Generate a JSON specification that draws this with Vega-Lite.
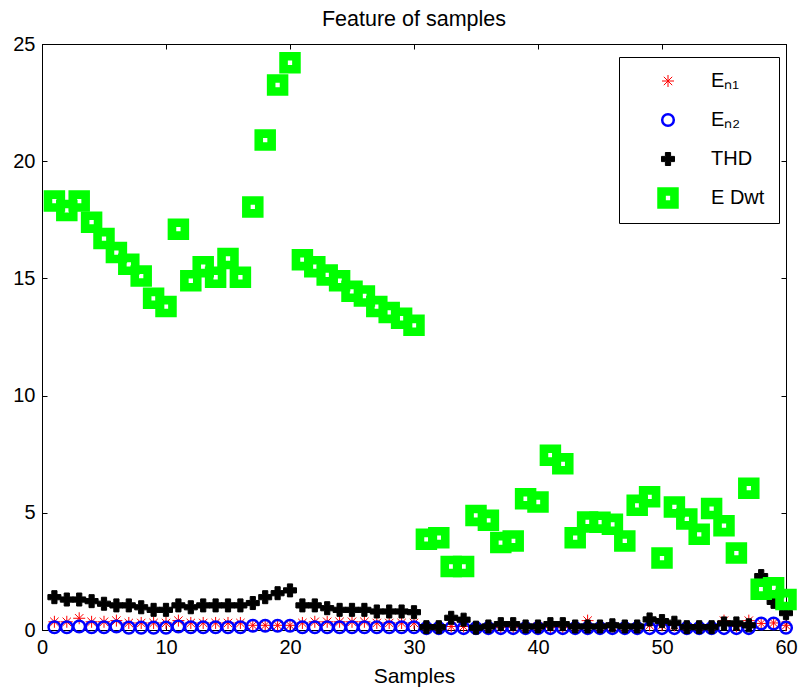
{
  "$schema": "https://vega.github.io/schema/vega-lite/v6.json",
  "width": 744,
  "height": 586,
  "autosize": {"type": "none"},
  "padding": {"left": 42, "top": 44, "right": 12, "bottom": 59},
  "background": "white",
  "title": {"text": "Feature of samples", "fontSize": 21.5, "fontWeight": "normal", "color": "black", "offset": 17, "baseline": "alphabetic", "dy": 30},
  "datasets": {
    "pts": [
      {"s":1,"k":"En1","v":0.35},{"s":2,"k":"En1","v":0.35},{"s":3,"k":"En1","v":0.5},{"s":4,"k":"En1","v":0.35},{"s":5,"k":"En1","v":0.35},{"s":6,"k":"En1","v":0.4},{"s":7,"k":"En1","v":0.3},{"s":8,"k":"En1","v":0.3},{"s":9,"k":"En1","v":0.3},{"s":10,"k":"En1","v":0.3},
      {"s":11,"k":"En1","v":0.4},{"s":12,"k":"En1","v":0.3},{"s":13,"k":"En1","v":0.3},{"s":14,"k":"En1","v":0.3},{"s":15,"k":"En1","v":0.3},{"s":16,"k":"En1","v":0.3},{"s":17,"k":"En1","v":0.2},{"s":18,"k":"En1","v":0.2},{"s":19,"k":"En1","v":0.2},{"s":20,"k":"En1","v":0.2},
      {"s":21,"k":"En1","v":0.3},{"s":22,"k":"En1","v":0.35},{"s":23,"k":"En1","v":0.35},{"s":24,"k":"En1","v":0.35},{"s":25,"k":"En1","v":0.35},{"s":26,"k":"En1","v":0.35},{"s":27,"k":"En1","v":0.3},{"s":28,"k":"En1","v":0.3},{"s":29,"k":"En1","v":0.3},{"s":30,"k":"En1","v":0.3},
      {"s":31,"k":"En1","v":0.1},{"s":32,"k":"En1","v":0.1},{"s":33,"k":"En1","v":0.15},{"s":34,"k":"En1","v":0.15},{"s":35,"k":"En1","v":0.1},{"s":36,"k":"En1","v":0.1},{"s":37,"k":"En1","v":0.1},{"s":38,"k":"En1","v":0.1},{"s":39,"k":"En1","v":0.1},{"s":40,"k":"En1","v":0.15},
      {"s":41,"k":"En1","v":0.1},{"s":42,"k":"En1","v":0.1},{"s":43,"k":"En1","v":0.1},{"s":44,"k":"En1","v":0.4},{"s":45,"k":"En1","v":0.1},{"s":46,"k":"En1","v":0.15},{"s":47,"k":"En1","v":0.1},{"s":48,"k":"En1","v":0.1},{"s":49,"k":"En1","v":0.2},{"s":50,"k":"En1","v":0.2},
      {"s":51,"k":"En1","v":0.2},{"s":52,"k":"En1","v":0.1},{"s":53,"k":"En1","v":0.1},{"s":54,"k":"En1","v":0.1},{"s":55,"k":"En1","v":0.4},{"s":56,"k":"En1","v":0.15},{"s":57,"k":"En1","v":0.4},{"s":58,"k":"En1","v":0.28},{"s":59,"k":"En1","v":0.3},{"s":60,"k":"En1","v":0.2},

      {"s":1,"k":"En2","v":0.12},{"s":2,"k":"En2","v":0.12},{"s":3,"k":"En2","v":0.15},{"s":4,"k":"En2","v":0.12},{"s":5,"k":"En2","v":0.12},{"s":6,"k":"En2","v":0.15},{"s":7,"k":"En2","v":0.1},{"s":8,"k":"En2","v":0.1},{"s":9,"k":"En2","v":0.1},{"s":10,"k":"En2","v":0.1},
      {"s":11,"k":"En2","v":0.15},{"s":12,"k":"En2","v":0.12},{"s":13,"k":"En2","v":0.12},{"s":14,"k":"En2","v":0.12},{"s":15,"k":"En2","v":0.12},{"s":16,"k":"En2","v":0.12},{"s":17,"k":"En2","v":0.18},{"s":18,"k":"En2","v":0.18},{"s":19,"k":"En2","v":0.18},{"s":20,"k":"En2","v":0.18},
      {"s":21,"k":"En2","v":0.12},{"s":22,"k":"En2","v":0.12},{"s":23,"k":"En2","v":0.12},{"s":24,"k":"En2","v":0.12},{"s":25,"k":"En2","v":0.12},{"s":26,"k":"En2","v":0.12},{"s":27,"k":"En2","v":0.12},{"s":28,"k":"En2","v":0.12},{"s":29,"k":"En2","v":0.12},{"s":30,"k":"En2","v":0.12},
      {"s":31,"k":"En2","v":0.08},{"s":32,"k":"En2","v":0.08},{"s":33,"k":"En2","v":0.08},{"s":34,"k":"En2","v":0.08},{"s":35,"k":"En2","v":0.08},{"s":36,"k":"En2","v":0.08},{"s":37,"k":"En2","v":0.08},{"s":38,"k":"En2","v":0.08},{"s":39,"k":"En2","v":0.08},{"s":40,"k":"En2","v":0.08},
      {"s":41,"k":"En2","v":0.08},{"s":42,"k":"En2","v":0.08},{"s":43,"k":"En2","v":0.08},{"s":44,"k":"En2","v":0.08},{"s":45,"k":"En2","v":0.08},{"s":46,"k":"En2","v":0.08},{"s":47,"k":"En2","v":0.08},{"s":48,"k":"En2","v":0.08},{"s":49,"k":"En2","v":0.08},{"s":50,"k":"En2","v":0.08},
      {"s":51,"k":"En2","v":0.08},{"s":52,"k":"En2","v":0.08},{"s":53,"k":"En2","v":0.08},{"s":54,"k":"En2","v":0.08},{"s":55,"k":"En2","v":0.08},{"s":56,"k":"En2","v":0.08},{"s":57,"k":"En2","v":0.08},{"s":58,"k":"En2","v":0.28},{"s":59,"k":"En2","v":0.28},{"s":60,"k":"En2","v":0.1},

      {"s":1,"k":"THD","v":1.4},{"s":2,"k":"THD","v":1.3},{"s":3,"k":"THD","v":1.3},{"s":4,"k":"THD","v":1.23},{"s":5,"k":"THD","v":1.12},{"s":6,"k":"THD","v":1.05},{"s":7,"k":"THD","v":1.05},{"s":8,"k":"THD","v":0.97},{"s":9,"k":"THD","v":0.86},{"s":10,"k":"THD","v":0.86},
      {"s":11,"k":"THD","v":1.05},{"s":12,"k":"THD","v":0.97},{"s":13,"k":"THD","v":1.05},{"s":14,"k":"THD","v":1.05},{"s":15,"k":"THD","v":1.05},{"s":16,"k":"THD","v":1.05},{"s":17,"k":"THD","v":1.15},{"s":18,"k":"THD","v":1.4},{"s":19,"k":"THD","v":1.57},{"s":20,"k":"THD","v":1.69},
      {"s":21,"k":"THD","v":1.05},{"s":22,"k":"THD","v":1.05},{"s":23,"k":"THD","v":0.93},{"s":24,"k":"THD","v":0.86},{"s":25,"k":"THD","v":0.86},{"s":26,"k":"THD","v":0.86},{"s":27,"k":"THD","v":0.79},{"s":28,"k":"THD","v":0.79},{"s":29,"k":"THD","v":0.79},{"s":30,"k":"THD","v":0.76},
      {"s":31,"k":"THD","v":0.12},{"s":32,"k":"THD","v":0.12},{"s":33,"k":"THD","v":0.52},{"s":34,"k":"THD","v":0.44},{"s":35,"k":"THD","v":0.1},{"s":36,"k":"THD","v":0.15},{"s":37,"k":"THD","v":0.25},{"s":38,"k":"THD","v":0.25},{"s":39,"k":"THD","v":0.15},{"s":40,"k":"THD","v":0.15},
      {"s":41,"k":"THD","v":0.25},{"s":42,"k":"THD","v":0.25},{"s":43,"k":"THD","v":0.15},{"s":44,"k":"THD","v":0.15},{"s":45,"k":"THD","v":0.15},{"s":46,"k":"THD","v":0.2},{"s":47,"k":"THD","v":0.15},{"s":48,"k":"THD","v":0.15},{"s":49,"k":"THD","v":0.45},{"s":50,"k":"THD","v":0.38},
      {"s":51,"k":"THD","v":0.31},{"s":52,"k":"THD","v":0.12},{"s":53,"k":"THD","v":0.12},{"s":54,"k":"THD","v":0.12},{"s":55,"k":"THD","v":0.28},{"s":56,"k":"THD","v":0.28},{"s":57,"k":"THD","v":0.2},{"s":58,"k":"THD","v":2.3},{"s":59,"k":"THD","v":1.2},{"s":60,"k":"THD","v":0.72},

      {"s":1,"k":"EDwt","v":18.3},{"s":2,"k":"EDwt","v":17.9},{"s":3,"k":"EDwt","v":18.3},{"s":4,"k":"EDwt","v":17.4},{"s":5,"k":"EDwt","v":16.7},{"s":6,"k":"EDwt","v":16.1},{"s":7,"k":"EDwt","v":15.6},{"s":8,"k":"EDwt","v":15.1},{"s":9,"k":"EDwt","v":14.15},{"s":10,"k":"EDwt","v":13.8},
      {"s":11,"k":"EDwt","v":17.1},{"s":12,"k":"EDwt","v":14.9},{"s":13,"k":"EDwt","v":15.5},{"s":14,"k":"EDwt","v":15.05},{"s":15,"k":"EDwt","v":15.85},{"s":16,"k":"EDwt","v":15.05},{"s":17,"k":"EDwt","v":18.05},{"s":18,"k":"EDwt","v":20.9},{"s":19,"k":"EDwt","v":23.25},{"s":20,"k":"EDwt","v":24.2},
      {"s":21,"k":"EDwt","v":15.8},{"s":22,"k":"EDwt","v":15.5},{"s":23,"k":"EDwt","v":15.15},{"s":24,"k":"EDwt","v":14.9},{"s":25,"k":"EDwt","v":14.45},{"s":26,"k":"EDwt","v":14.25},{"s":27,"k":"EDwt","v":13.8},{"s":28,"k":"EDwt","v":13.55},{"s":29,"k":"EDwt","v":13.3},{"s":30,"k":"EDwt","v":13.0},
      {"s":31,"k":"EDwt","v":3.87},{"s":32,"k":"EDwt","v":3.94},{"s":33,"k":"EDwt","v":2.71},{"s":34,"k":"EDwt","v":2.71},{"s":35,"k":"EDwt","v":4.89},{"s":36,"k":"EDwt","v":4.68},{"s":37,"k":"EDwt","v":3.73},{"s":38,"k":"EDwt","v":3.8},{"s":39,"k":"EDwt","v":5.6},{"s":40,"k":"EDwt","v":5.46},
      {"s":41,"k":"EDwt","v":7.46},{"s":42,"k":"EDwt","v":7.09},{"s":43,"k":"EDwt","v":3.94},{"s":44,"k":"EDwt","v":4.61},{"s":45,"k":"EDwt","v":4.6},{"s":46,"k":"EDwt","v":4.51},{"s":47,"k":"EDwt","v":3.8},{"s":48,"k":"EDwt","v":5.32},{"s":49,"k":"EDwt","v":5.68},{"s":50,"k":"EDwt","v":3.07},
      {"s":51,"k":"EDwt","v":5.25},{"s":52,"k":"EDwt","v":4.74},{"s":53,"k":"EDwt","v":4.08},{"s":54,"k":"EDwt","v":5.18},{"s":55,"k":"EDwt","v":4.45},{"s":56,"k":"EDwt","v":3.28},{"s":57,"k":"EDwt","v":6.05},{"s":58,"k":"EDwt","v":1.74},{"s":59,"k":"EDwt","v":1.8},{"s":60,"k":"EDwt","v":1.3}
    ]
  },
  "data": {"name": "pts"},
  "layer": [
    {
      "mark": {"type": "point", "opacity": 1},
      "encoding": {
        "x": {"field": "s", "type": "quantitative", "scale": {"domain": [0, 60], "nice": false},
              "axis": {"orient": "bottom", "values": [0,10,20,30,40,50,60], "title": "Samples", "titleY": 52, "titleBaseline": "alphabetic"}},
        "y": {"field": "v", "type": "quantitative", "scale": {"domain": [0, 25], "nice": false},
              "axis": {"orient": "left", "values": [0,5,10,15,20,25], "title": null}},
        "stroke": {"field": "k", "type": "nominal", "scale": {"type": "ordinal", "domain": ["En1","En2","THD","EDwt"], "range": ["#ff0000","#0000ff","#000000","transparent"]},
                   "legend": {"title": null, "labelExpr": "datum.value == 'En1' ? 'Eₙ₁' : datum.value == 'En2' ? 'Eₙ₂' : datum.value == 'EDwt' ? 'E Dwt' : datum.value"}},
        "fill": {"field": "k", "type": "nominal", "scale": {"type": "ordinal", "domain": ["En1","En2","THD","EDwt"], "range": ["transparent","transparent","#000000","#00ff00"]},
                 "legend": {"title": null, "labelExpr": "datum.value == 'En1' ? 'Eₙ₁' : datum.value == 'En2' ? 'Eₙ₂' : datum.value == 'EDwt' ? 'E Dwt' : datum.value"}},
        "shape": {"field": "k", "type": "nominal", "scale": {"type": "ordinal", "domain": ["En1","En2","THD","EDwt"], "range": ["M-1,0L1,0M0,-1L0,1M-0.7,-0.7L0.7,0.7M-0.7,0.7L0.7,-0.7","circle","cross","M-1,-1L1,-1L1,1L-1,1ZM-0.2,-0.2L-0.2,0.2L0.2,0.2L0.2,-0.2Z"]},
                  "legend": {"title": null, "labelExpr": "datum.value == 'En1' ? 'Eₙ₁' : datum.value == 'En2' ? 'Eₙ₂' : datum.value == 'EDwt' ? 'E Dwt' : datum.value"}},
        "size": {"field": "k", "type": "nominal", "scale": {"type": "ordinal", "domain": ["En1","En2","THD","EDwt"], "range": [144,135,169,462]},
                 "legend": {"title": null, "labelExpr": "datum.value == 'En1' ? 'Eₙ₁' : datum.value == 'En2' ? 'Eₙ₂' : datum.value == 'EDwt' ? 'E Dwt' : datum.value"}},
        "strokeWidth": {"field": "k", "type": "nominal", "scale": {"type": "ordinal", "domain": ["En1","En2","THD","EDwt"], "range": [1,2.5,1,0]},
                        "legend": {"title": null, "labelExpr": "datum.value == 'En1' ? 'Eₙ₁' : datum.value == 'En2' ? 'Eₙ₂' : datum.value == 'EDwt' ? 'E Dwt' : datum.value"}}
      }
    },
    {
      "mark": {"type": "point", "opacity": 0},
      "encoding": {
        "x": {"field": "s", "type": "quantitative", "axis": {"orient": "top", "values": [0,10,20,30,40,50,60], "labels": false, "title": null}},
        "y": {"field": "v", "type": "quantitative", "axis": {"orient": "right", "values": [0,5,10,15,20,25], "labels": false, "title": null}}
      }
    }
  ],
  "resolve": {"axis": {"x": "independent", "y": "independent"}},
  "config": {
    "font": "Liberation Sans",
    "view": {"stroke": "black", "strokeWidth": 1},
    "axis": {
      "grid": false, "domainColor": "black", "domainWidth": 1, "tickColor": "black", "tickSize": -5, "tickWidth": 1,
      "labelFontSize": 20, "labelColor": "black", "labelFlush": false, "labelPadding": 12,
      "titleFontSize": 21, "titleFontWeight": "normal", "titleColor": "black"
    },
    "legend": {
      "orient": "none", "legendX": 577, "legendY": 13,
      "strokeColor": "black", "fillColor": "white", "padding": 14,
      "labelFontSize": 20, "labelColor": "black", "labelLimit": 300,
      "rowPadding": 18, "symbolOffset": 24, "labelOffset": 32
    }
  }
}
